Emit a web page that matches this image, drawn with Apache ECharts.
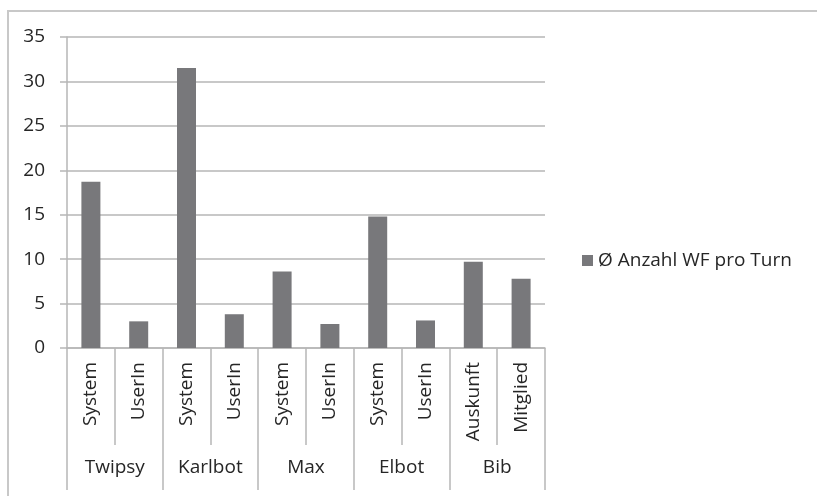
<!DOCTYPE html>
<html>
<head>
<meta charset="utf-8">
<script src="https://cdn.jsdelivr.net/npm/echarts@6/dist/echarts.min.js"></script>
<style>
  html, body { margin: 0; padding: 0; background: #fff; }
  #frame { position: absolute; left: 7px; top: 10px; width: 820px; height: 500px;
           border-left: 2px solid #c8c8c8; border-top: 2px solid #c8c8c8; box-sizing: border-box; }
  #chart { position: absolute; left: 0; top: 0; width: 817px; height: 496px; }
</style>
</head>
<body>
<div id="frame"></div>
<div id="chart"></div>
<script>
const subCategories = ['System', 'UserIn', 'System', 'UserIn', 'System', 'UserIn', 'System', 'UserIn', 'Auskunft', 'Mitglied'];
const groups = ['Twipsy', 'Karlbot', 'Max', 'Elbot', 'Bib'];
const seriesName = 'Ø Anzahl WF pro Turn';
const values = [18.7, 3.0, 31.5, 3.8, 8.6, 2.7, 14.8, 3.1, 9.7, 7.8];
const yTicks = { min: 0, max: 35, interval: 5 };

const chart = echarts.init(document.getElementById('chart'), null, { renderer: 'canvas' });
const font = '"Open Sans", sans-serif';
const gridColor = '#b6b6b6';
const textColor = '#262626';
const fs = 19;

chart.setOption({
  backgroundColor: 'transparent',
  animation: false,
  grid: { left: 67, right: 272, top: 37, bottom: 148, containLabel: false },
  legend: {
    data: [seriesName],
    left: 577, top: 246,
    icon: 'rect', itemWidth: 11, itemHeight: 11, itemGap: 10,
    textStyle: { fontFamily: font, fontSize: fs, color: textColor }
  },
  xAxis: [
    {
      type: 'category', position: 'bottom', data: subCategories,
      axisLine: { show: true, lineStyle: { color: gridColor, width: 1.5 } },
      axisTick: { show: true, interval: 0, length: 97, lineStyle: { color: gridColor, width: 1.5 } },
      axisLabel: { interval: 0, rotate: 90, margin: 14, fontFamily: font, fontSize: fs, color: textColor },
      splitLine: { show: false }
    },
    {
      type: 'category', position: 'bottom', data: groups,
      axisLine: { show: false },
      axisTick: { show: true, interval: 0, length: 142, lineStyle: { color: gridColor, width: 1.5 } },
      axisLabel: { interval: 0, margin: 110, fontFamily: font, fontSize: fs, color: textColor },
      splitLine: { show: false }
    }
  ],
  yAxis: {
    type: 'value', min: yTicks.min, max: yTicks.max, interval: yTicks.interval,
    axisLine: { show: true, lineStyle: { color: gridColor, width: 1.5 } },
    axisTick: { show: true, length: 7, lineStyle: { color: gridColor, width: 1.5 } },
    axisLabel: { margin: 22, fontFamily: font, fontSize: fs, color: textColor },
    splitLine: { show: true, lineStyle: { color: gridColor, width: 1.5 } }
  },
  series: [{
    name: seriesName, type: 'bar', xAxisIndex: 0, data: values,
    barWidth: 19,
    itemStyle: { color: '#78787b' }
  }]
});
</script>
</body>
</html>
